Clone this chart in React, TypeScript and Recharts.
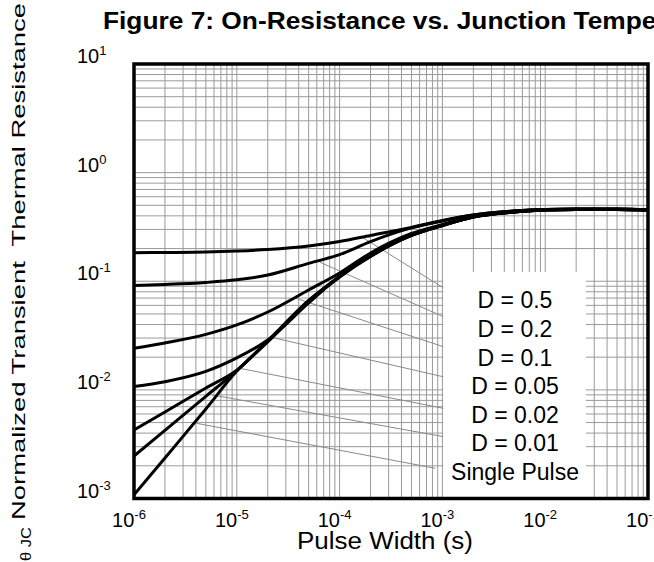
import React from "react";
import {
  LineChart,
  Line,
  XAxis,
  YAxis,
  CartesianGrid,
  ReferenceArea,
  ReferenceLine,
} from "recharts";

// pulse width (s)
const pulseWidth = [
  1e-6, 2e-6, 5e-6, 1e-5, 2e-5, 5e-5, 1e-4, 2e-4, 5e-4, 1e-3, 2e-3, 5e-3, 1e-2,
  2e-2, 5e-2, 1e-1,
];

// normalized transient thermal resistance, one list per duty cycle
const d050 = [
  0.183, 0.184, 0.186, 0.19, 0.196, 0.211, 0.232, 0.264, 0.313, 0.363, 0.407,
  0.443, 0.458, 0.462, 0.462, 0.453,
];
const d020 = [
  0.0914, 0.0934, 0.0974, 0.103, 0.114, 0.146, 0.176, 0.232, 0.31, 0.359, 0.407,
  0.443, 0.458, 0.462, 0.462, 0.453,
];
const d010 = [
  0.0241, 0.027, 0.0324, 0.0396, 0.0521, 0.0831, 0.119, 0.182, 0.275, 0.333,
  0.395, 0.443, 0.458, 0.462, 0.462, 0.453,
];
const d005 = [
  0.01074, 0.0119, 0.0148, 0.0197, 0.0288, 0.0631, 0.1117, 0.174, 0.268, 0.329,
  0.395, 0.434, 0.453, 0.458, 0.458, 0.453,
];
const d002 = [
  0.00427, 0.00626, 0.0104, 0.0152, 0.0282, 0.0665, 0.1106, 0.171, 0.264, 0.326,
  0.39, 0.434, 0.453, 0.458, 0.458, 0.453,
];
const d001 = [
  0.00246, 0.00424, 0.00873, 0.015, 0.0282, 0.0658, 0.11, 0.17, 0.264, 0.326,
  0.39, 0.434, 0.453, 0.458, 0.458, 0.453,
];
const single = [
  0.00108, 0.00236, 0.00667, 0.0149, 0.0276, 0.0644, 0.1094, 0.169, 0.264,
  0.326, 0.39, 0.434, 0.453, 0.458, 0.458, 0.453,
];

const seriesKeys = ["d050", "d020", "d010", "d005", "d002", "d001", "single"];
const seriesLists = [d050, d020, d010, d005, d002, d001, single];
const legendLabels = [
  "D = 0.5",
  "D = 0.2",
  "D = 0.1",
  "D = 0.05",
  "D = 0.02",
  "D = 0.01",
  "Single Pulse",
];

// leader lines from each curve to its legend entry [x, y]
const leaderFrom = [
  [1.6e-4, 0.26],
  [6.4e-5, 0.15],
  [3.7e-5, 0.07],
  [2.1e-5, 0.0307],
  [1.03e-5, 0.0159],
  [5.7e-6, 0.009],
  [4.07e-6, 0.00492],
];
const leaderTo = [
  [1.02e-3, 0.087],
  [1.02e-3, 0.0472],
  [1.02e-3, 0.025],
  [1.02e-3, 0.0132],
  [1.02e-3, 0.00677],
  [1.02e-3, 0.00371],
  [8.5e-4, 0.0019],
];
// legend box corners
const legendBoxX = [1.02e-3, 0.0249];
const legendBoxY = [1e-3, 0.1216];

const FONT = '"Liberation Sans", Arial, Helvetica, sans-serif';

function decadeTicks(lo: number, hi: number) {
  const out: number[] = [];
  for (let e = lo; e < hi; e++) {
    for (let m = 1; m < 10; m++) out.push(Number((m * Math.pow(10, e)).toPrecision(3)));
  }
  out.push(Math.pow(10, hi));
  return out;
}
const xTicks = decadeTicks(-6, -1);
const yTicks = decadeTicks(-3, 1);

const data = pulseWidth.map((t, i) => {
  const row: Record<string, number> = { t };
  seriesKeys.forEach((k, j) => (row[k] = seriesLists[j][i]));
  return row;
});

function exponentOf(v: number) {
  const e = Math.round(Math.log10(v));
  return Math.abs(v - Math.pow(10, e)) / v < 1e-6 ? e : null;
}

function XTick(props: any) {
  const { x, y, payload } = props;
  const e = exponentOf(payload.value);
  if (e === null) return <g />;
  return (
    <text x={x - 5} y={y + 28.5} textAnchor="middle" fontFamily={FONT} fill="#000">
      <tspan fontSize={20}>10</tspan>
      <tspan fontSize={13} dy={-8}>
        {e}
      </tspan>
    </text>
  );
}

function YTick(props: any) {
  const { x, y, payload } = props;
  const e = exponentOf(payload.value);
  if (e === null) return <g />;
  return (
    <text x={x - 57} y={y - 1} textAnchor="start" fontFamily={FONT} fill="#000">
      <tspan fontSize={20}>10</tspan>
      <tspan fontSize={13} dy={-8}>
        {e}
      </tspan>
    </text>
  );
}

export default function App() {
  return (
    <div style={{ position: "absolute", left: 0, top: 0, width: 654, height: 562, background: "#fff" }}>
      <LineChart
        width={654}
        height={562}
        data={data}
        margin={{ top: 64, right: 6, bottom: 62.5, left: 133 }}
      >
        <CartesianGrid stroke="#9a9a9a" strokeWidth={1} />
        <XAxis
          dataKey="t"
          type="number"
          scale="log"
          domain={[1e-6, 1e-1]}
          ticks={xTicks}
          interval={0}
          allowDataOverflow
          axisLine={false}
          tickLine={false}
          tickSize={0}
          tickMargin={0}
          height={1}
          tick={<XTick />}
        />
        <YAxis
          type="number"
          scale="log"
          domain={[1e-3, 10]}
          ticks={yTicks}
          interval={0}
          allowDataOverflow
          axisLine={false}
          tickLine={false}
          tickSize={0}
          tickMargin={0}
          width={1}
          tick={<YTick />}
        />
        <ReferenceArea
          x1={legendBoxX[0]}
          x2={legendBoxX[1]}
          y1={legendBoxY[0]}
          y2={legendBoxY[1]}
          fill="#fff"
          fillOpacity={1}
          stroke="none"
        />
        {leaderFrom.map((p, i) => (
          <ReferenceLine
            key={"leader" + i}
            segment={[
              { x: p[0], y: p[1] },
              { x: leaderTo[i][0], y: leaderTo[i][1] },
            ]}
            stroke="#8a8a8a"
            strokeWidth={1}
          />
        ))}
        {seriesKeys.map((k) => (
          <Line
            key={k}
            dataKey={k}
            type="monotone"
            stroke="#000"
            strokeWidth={3}
            dot={false}
            activeDot={false}
            isAnimationActive={false}
          />
        ))}
        <ReferenceArea
          x1={1e-6}
          x2={1e-1}
          y1={1e-3}
          y2={10}
          fill="none"
          stroke="#000"
          strokeWidth={3.5}
        />
      </LineChart>
      <svg
        width={654}
        height={562}
        style={{ position: "absolute", left: 0, top: 0, pointerEvents: "none" }}
      >
        <g fontFamily={FONT} fill="#000">
          <text
            x={103}
            y={29}
            fontSize={23}
            fontWeight="bold"
            textLength={628}
            lengthAdjust="spacingAndGlyphs"
          >
            Figure 7: On-Resistance vs. Junction Temperature
          </text>
          <text
            x={25}
            y={520}
            transform="rotate(-90 25 520)"
            fontSize={18}
            textLength={517}
            lengthAdjust="spacingAndGlyphs"
            style={{ whiteSpace: "pre" }}
          >
            Normalized Transient  Thermal Resistance
          </text>
          <text
            x={31}
            y={561}
            transform="rotate(-90 31 561)"
            fontSize={15}
            textLength={34}
            lengthAdjust="spacingAndGlyphs"
          >
            θ JC
          </text>
          <text x={297} y={549} fontSize={23} textLength={176} lengthAdjust="spacingAndGlyphs">
            Pulse Width (s)
          </text>
          {legendLabels.map((s, i) => (
            <text key={s} x={515} y={308.3 + i * 28.6} fontSize={23} textAnchor="middle">
              {s}
            </text>
          ))}
        </g>
      </svg>
    </div>
  );
}
